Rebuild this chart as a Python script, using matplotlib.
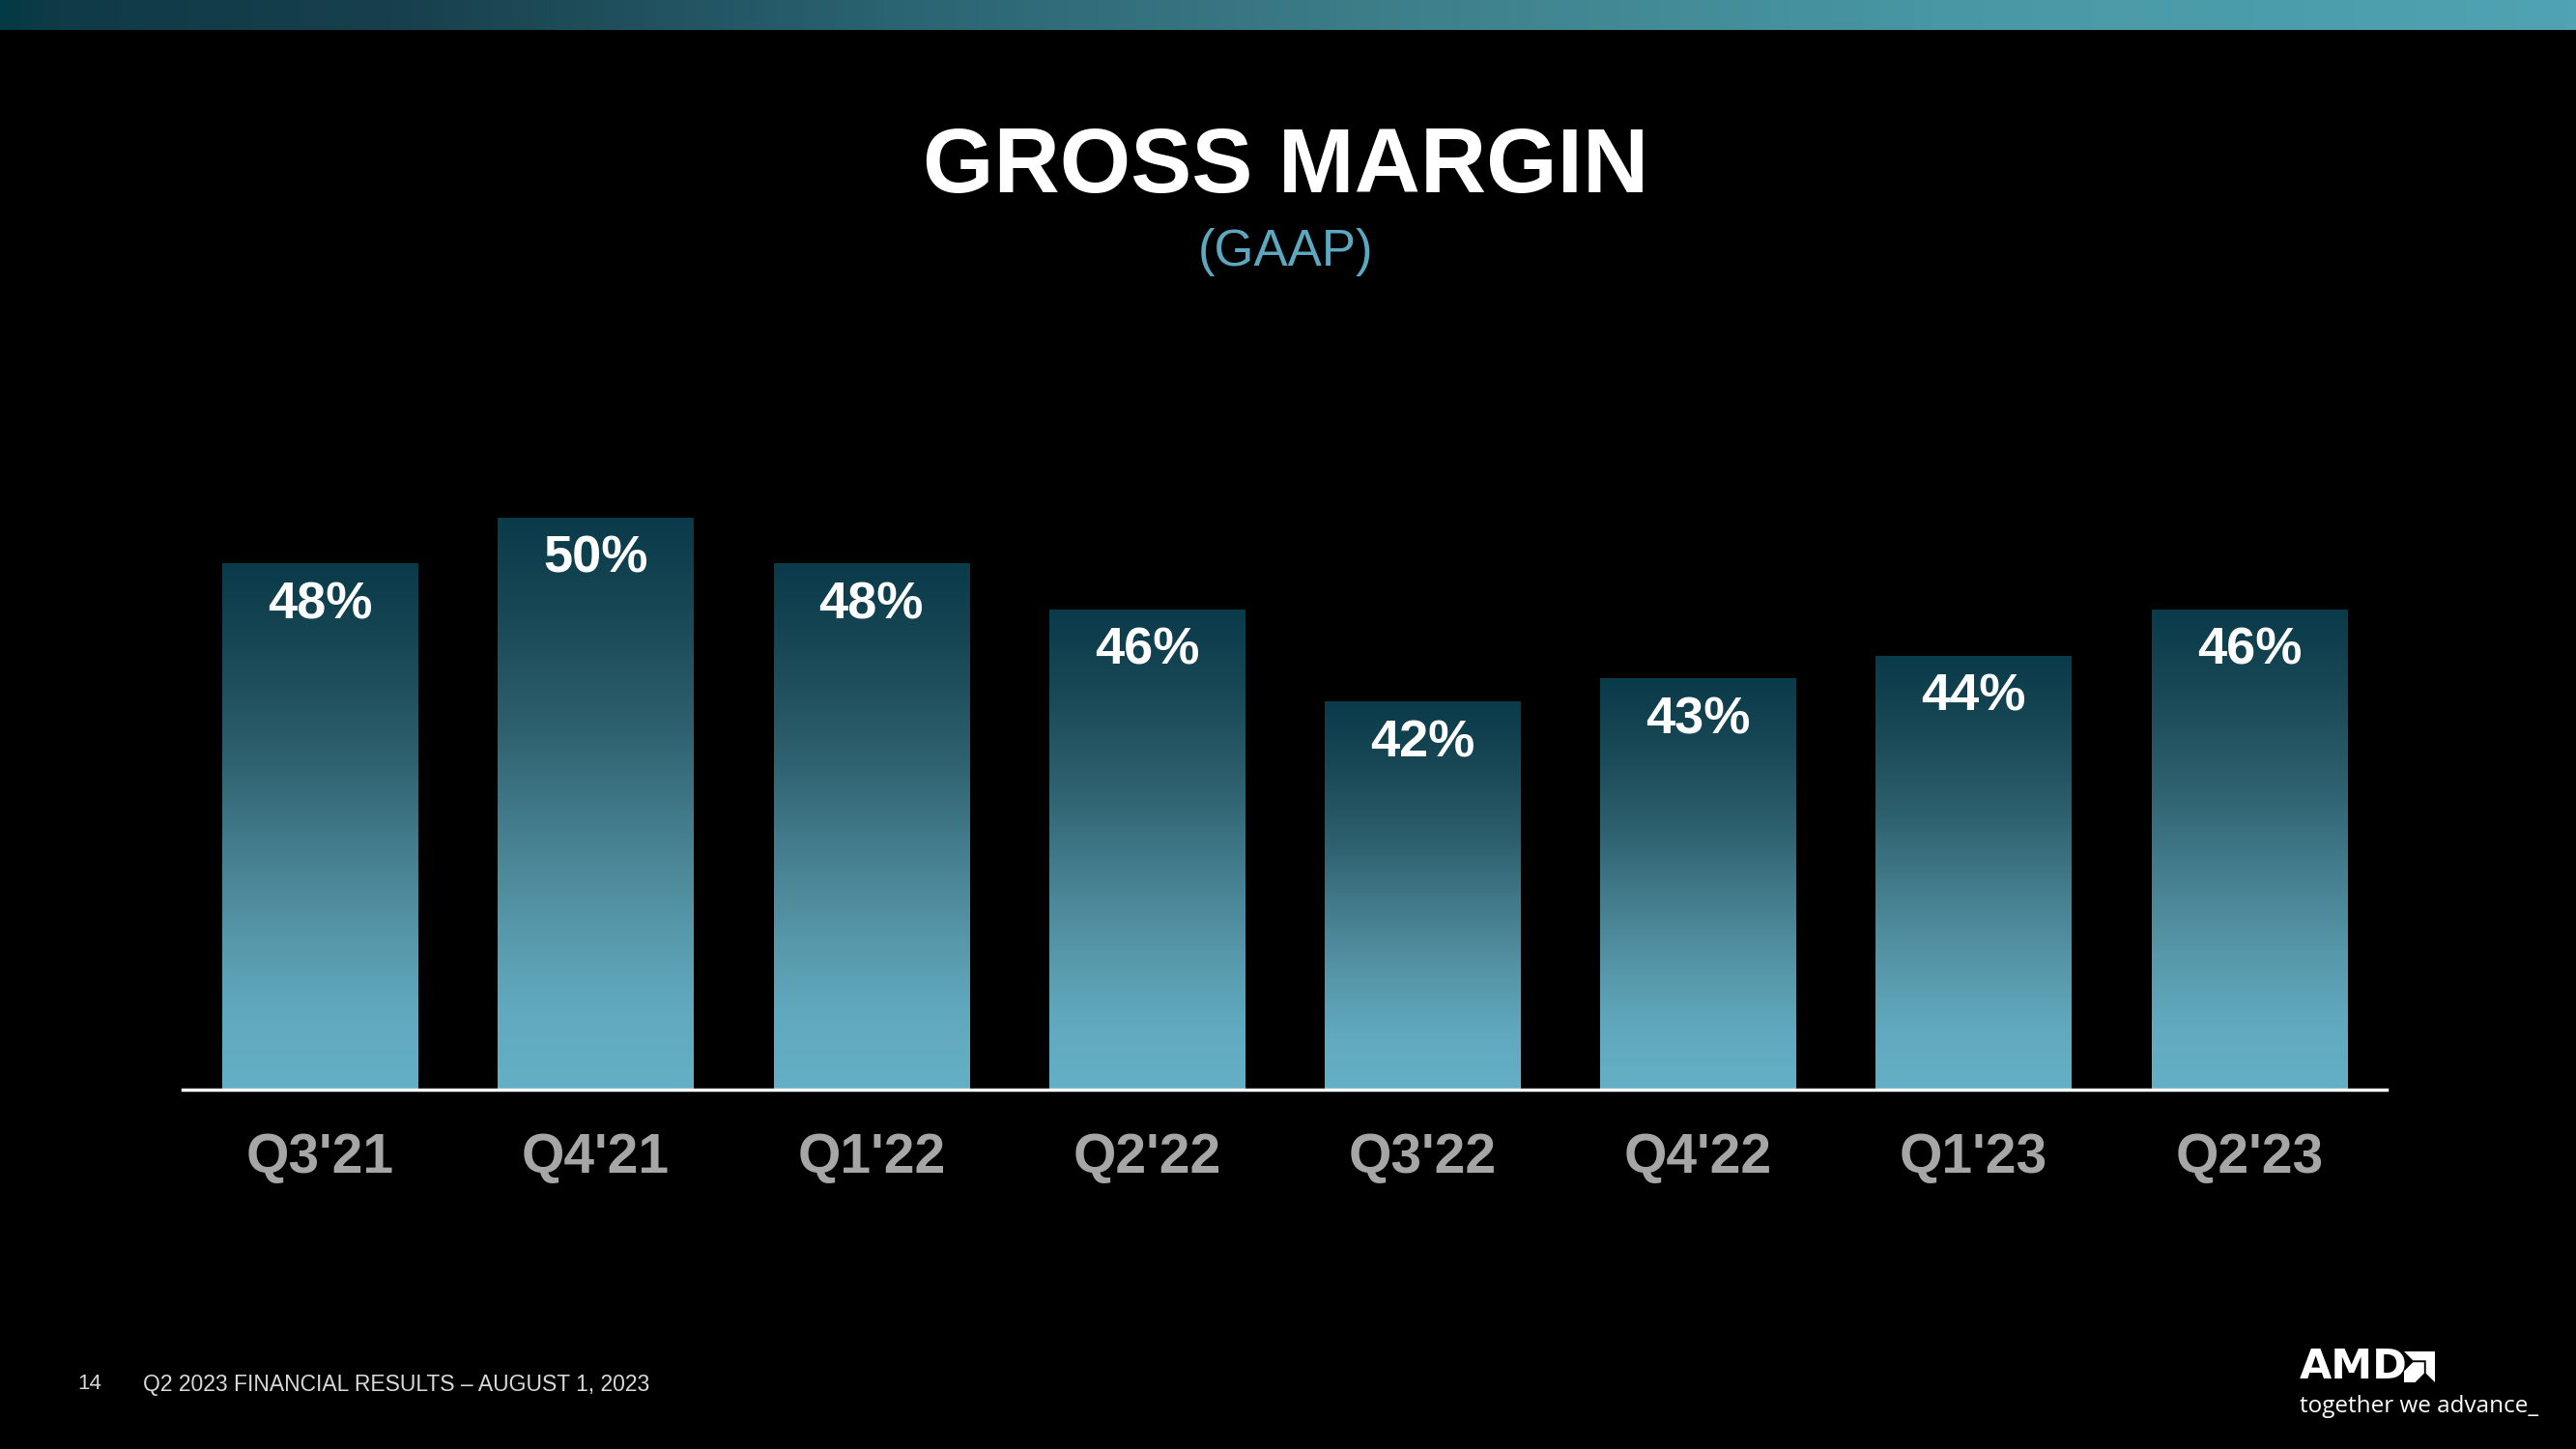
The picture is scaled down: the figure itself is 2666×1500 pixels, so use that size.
import matplotlib
matplotlib.use("Agg")
import matplotlib.pyplot as plt
from matplotlib.colors import LinearSegmentedColormap
from matplotlib.patches import Polygon
import numpy as np

# data
quarters = ["Q3'21", "Q4'21", "Q1'22", "Q2'22", "Q3'22", "Q4'22", "Q1'23", "Q2'23"]
gross_margin = [48, 50, 48, 46, 42, 43, 44, 46]

plain = ['Liberation Sans', 'DejaVu Sans']

fig = plt.figure(figsize=(26.66, 15), dpi=100, facecolor='black')

# background layer in pixel coords for the decor
bg = fig.add_axes([0, 0, 1, 1], zorder=0)
bg.set_xlim(0, 2666)
bg.set_ylim(1500, 0)
bg.axis('off')
bg.set_facecolor('black')

top_cmap = LinearSegmentedColormap.from_list(
    'top', [(0, '#033a45'), (0.02, '#0f3a47'), (0.15, '#173f4c'), (0.35, '#2b6472'),
            (0.55, '#3e808b'), (0.75, '#4897a4'), (1, '#50a3b2')])
bg.imshow(np.linspace(0, 1, 512)[None, :], cmap=top_cmap, extent=(0, 2666, 31, 0), aspect='auto')

# AMD arrow logo
lx, ly, s = 2488, 1399, 32
outer = [(0, 0), (1, 0), (1, 1), (0.71, 0.71), (0.71, 0.29), (0.29, 0.29)]
inner = [(0.29, 0.35), (0, 0.64), (0, 1), (0.36, 1), (0.65, 0.71), (0.65, 0.35)]
for shape in (outer, inner):
    bg.add_patch(Polygon([(lx + px * s, ly + py * s) for px, py in shape], closed=True,
                         facecolor='white', edgecolor='none'))

# main chart
ax = fig.add_axes([111 / 1568, 0.2483, (1453 - 111) / 1568, 0.7222 - 0.2483], zorder=1)
ax.set_facecolor('none')
y_floor = 25.14
x = np.arange(len(quarters))
width = 0.71

bars = ax.bar(x, gross_margin, width=width, color='none')

bar_cmap = LinearSegmentedColormap.from_list(
    'bar', [(0, '#0a3b4a'), (0.15, '#174654'), (0.35, '#2c5e6c'), (0.55, '#457f8f'),
            (0.72, '#5798aa'), (0.85, '#60a8bd'), (1, '#65b0c6')])
grad = np.linspace(0, 1, 256)[:, None]
for xi, v in zip(x, gross_margin):
    ax.imshow(grad, cmap=bar_cmap, extent=(xi - width / 2, xi + width / 2, y_floor, v),
              origin='upper', aspect='auto', zorder=2)
    ax.text(xi, v - 1.8, f"{v}%", ha='center', va='center', color='white',
            fontsize=39, fontweight='bold', family=plain, zorder=3)

ax.set_xlim(-0.5, 7.5)
ax.set_ylim(y_floor, 55)
ax.set_xticks(x, quarters)
ax.tick_params(axis='x', length=0, pad=32, colors='#a6a6a6', labelsize=41)
for lab in ax.get_xticklabels():
    lab.set_fontweight('bold')
    lab.set_family(plain)
ax.set_yticks([])
for side in ['top', 'right', 'left']:
    ax.spines[side].set_visible(False)
ax.spines['bottom'].set_color('white')
ax.spines['bottom'].set_linewidth(2.5)
ax.spines['bottom'].set_zorder(4)

# titles
fig.text(0.499, 0.884, 'GROSS MARGIN', ha='center', va='center',
         color='white', fontsize=68, fontweight='bold', family=plain)
fig.text(0.499, 0.826, '(GAAP)', ha='center', va='center',
         color='#5ba8c0', fontsize=38, family=plain)

# footer
fig.text(0.030, 0.0447, '14', ha='left', va='center', color='#d9d9d9', fontsize=16, family=plain)
fig.text(0.0555, 0.0443, 'Q2 2023 FINANCIAL RESULTS \u2013 AUGUST 1, 2023',
         ha='left', va='center', color='#d9d9d9', fontsize=16.5, family=plain)
fig.text(2380 / 2666, 1 - 1415 / 1500, 'AMD', ha='left', va='center', color='white',
         fontsize=31, fontweight='bold', family=['DejaVu Sans'])
fig.text(2380 / 2666, 1 - 1456 / 1500, 'together we advance_', ha='left', va='center',
         color='white', fontsize=17.5, family=['Open Sans', 'DejaVu Sans'])

fig.savefig('out.png', dpi=100, facecolor='black')
